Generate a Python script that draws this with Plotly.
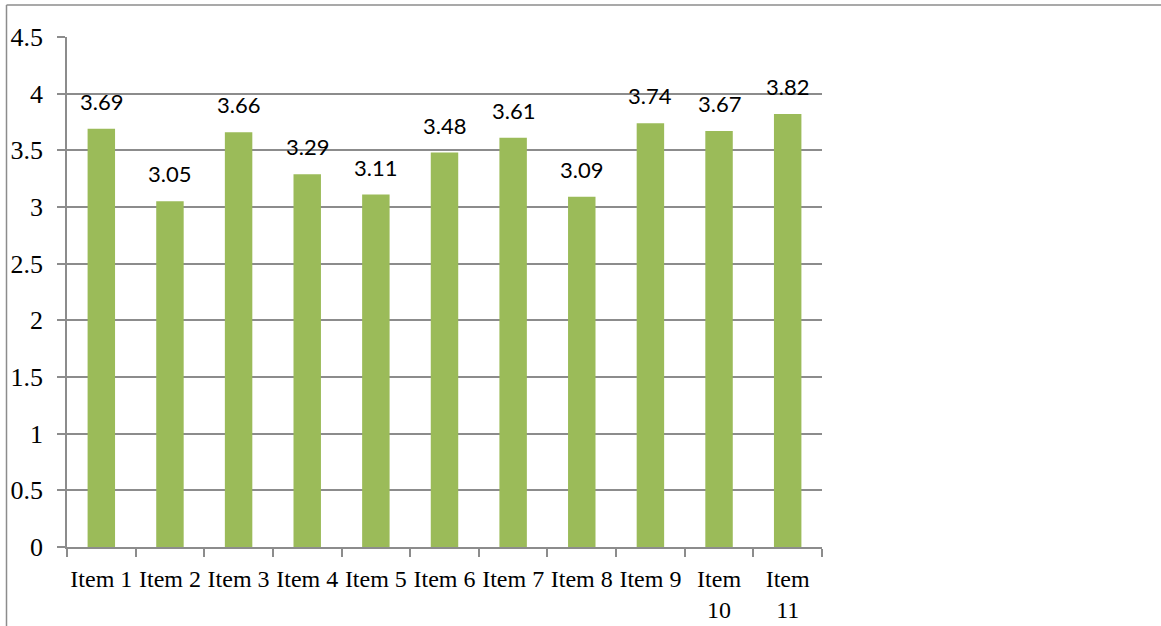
import plotly.graph_objects as go

categories = ["Item 1", "Item 2", "Item 3", "Item 4", "Item 5", "Item 6",
              "Item 7", "Item 8", "Item 9", "Item<br>10", "Item<br>11"]
values = [3.69, 3.05, 3.66, 3.29, 3.11, 3.48, 3.61, 3.09, 3.74, 3.67, 3.82]
labels = ["3.69", "3.05", "3.66", "3.29", "3.11", "3.48", "3.61", "3.09", "3.74", "3.67", "3.82"]
y_ticks = [0, 0.5, 1, 1.5, 2, 2.5, 3, 3.5, 4, 4.5]
y_tick_text = ["0", "0.5", "1", "1.5", "2", "2.5", "3", "3.5", "4", "4.5"]

W, H = 1161, 626
L, R, T, B = 67, 1161 - 822, 37, 626 - 547
pw, ph = W - L - R, H - T - B

fig = go.Figure()
fig.add_trace(go.Bar(x=categories, y=values, marker=dict(color="#9BBB59", line=dict(width=0)),
                     hoverinfo="skip"))

for c, v, t in zip(categories, values, labels):
    fig.add_annotation(x=c, y=v, text=t, showarrow=False, yanchor="bottom",
                       yshift=12, font=dict(family="Lato", size=22, color="#000000"))

grid = "#8C8C8C"
fig.update_layout(
    width=W, height=H,
    margin=dict(l=L, r=R, t=T, b=B, pad=0, autoexpand=False),
    paper_bgcolor="white", plot_bgcolor="white",
    bargap=0.6, showlegend=False,
    xaxis=dict(showline=True, linecolor=grid, linewidth=1.5, ticks="outside",
               tickson="boundaries", ticklen=8, tickcolor=grid, tickwidth=1.5,
               ticklabelstandoff=9, automargin=False,
               tickfont=dict(family="Liberation Serif", size=24, color="#000000"),
               tickangle=0, showgrid=False, fixedrange=True),
    yaxis=dict(range=[0, 4.5], tickvals=y_ticks, ticktext=y_tick_text,
               showline=True, linecolor=grid, linewidth=1.5, ticks="outside",
               ticklen=8, tickcolor=grid, tickwidth=1.5, automargin=False,
               showgrid=True, gridcolor=grid, gridwidth=1.5, zeroline=False,
               ticklabelstandoff=9,
               tickfont=dict(family="Liberation Serif", size=26, color="#000000"),
               fixedrange=True),
)

# outer frame (top and left edges)
x_left = (6.5 - L) / pw
y_top = (H - B - 5) / ph
fig.add_shape(type="line", xref="paper", yref="paper", x0=x_left, x1=(W - L) / pw,
              y0=y_top, y1=y_top, line=dict(color="#8C8C8C", width=1.5))
fig.add_shape(type="line", xref="paper", yref="paper", x0=x_left, x1=x_left,
              y0=y_top, y1=-B / ph, line=dict(color="#8C8C8C", width=1.5))

fig.write_html("out.html", config={"displayModeBar": False})
